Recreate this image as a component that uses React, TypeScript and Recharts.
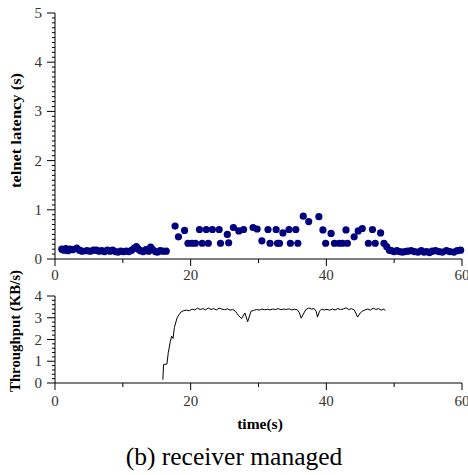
import React from 'react'
import { Label, Line, LineChart, Scatter, ScatterChart, XAxis, YAxis } from 'recharts'

// telnet latency samples (time in s, latency in s)
const latencyTime = [
  1.0, 1.3, 1.6, 1.9, 2.2, 2.6, 3.2, 3.6, 4.0, 4.7, 5.2, 5.7, 6.1, 6.5, 6.9, 7.3, 7.7, 8.1, 8.5, 8.9,
  9.3, 9.7, 10.1, 10.5, 10.9, 11.3, 11.7, 12.0, 12.3, 12.6, 13.0, 13.4, 13.8, 14.1, 14.4, 14.8, 15.1, 15.5, 15.9, 16.4,
  17.7, 18.2, 19.1, 19.6, 20.2, 20.7, 21.3, 21.7, 22.3, 22.6, 23.2, 24.2, 24.4, 25.4, 25.6, 26.3, 27.1, 27.8,
  29.2, 29.8, 30.5, 31.4, 31.7, 32.6, 32.8, 33.1, 33.6, 34.5, 34.7, 35.5, 35.8, 36.6, 37.4, 38.9, 39.5, 39.9,
  40.7, 41.2, 41.9, 42.4, 42.9, 43.1, 44.1, 44.7, 45.3, 46.2, 46.8, 47.2, 48.0, 48.5, 48.9,
  49.3, 49.6, 50.0, 50.4, 50.8, 51.2, 51.6, 52.0, 52.5, 53.0, 53.5, 54.0, 54.4, 54.8, 55.2, 55.6, 56.1, 56.6,
  57.1, 57.7, 58.2, 58.8, 59.3, 59.8,
]
const latencyValue = [
  0.2, 0.18, 0.21, 0.17, 0.2, 0.19, 0.22, 0.18, 0.16, 0.17, 0.16, 0.18, 0.18, 0.16, 0.17, 0.15, 0.18, 0.16, 0.18, 0.15,
  0.14, 0.16, 0.15, 0.16, 0.15, 0.18, 0.22, 0.25, 0.2, 0.17, 0.15, 0.19, 0.16, 0.24, 0.19, 0.15, 0.14, 0.17, 0.16, 0.16,
  0.67, 0.45, 0.58, 0.32, 0.32, 0.32, 0.6, 0.32, 0.6, 0.32, 0.6, 0.6, 0.32, 0.5, 0.33, 0.64, 0.57, 0.6,
  0.64, 0.61, 0.37, 0.6, 0.32, 0.6, 0.32, 0.32, 0.53, 0.6, 0.32, 0.6, 0.32, 0.87, 0.76, 0.86, 0.59, 0.32,
  0.52, 0.32, 0.32, 0.32, 0.59, 0.32, 0.45, 0.57, 0.62, 0.32, 0.6, 0.32, 0.53, 0.32, 0.25,
  0.18, 0.17, 0.15, 0.17, 0.15, 0.14, 0.15, 0.16, 0.17, 0.15, 0.14, 0.17, 0.14, 0.15, 0.13, 0.16, 0.17, 0.15,
  0.14, 0.17, 0.15, 0.14, 0.17, 0.18,
]

// throughput trace (time in s, KB/s)
const throughputTime = [
  15.9, 16.0, 16.5, 16.7, 17.0, 17.2, 17.4, 17.6, 18.0, 18.3, 18.6, 19.0, 19.4, 19.8, 20.2, 20.6, 21.0, 21.4, 21.8, 22.2,
  22.6, 23.0, 23.4, 23.8, 24.2, 24.6, 25.0, 25.4, 25.8, 26.2, 26.6, 27.0, 27.5, 28.0, 28.4, 28.9, 29.3, 29.7, 30.1, 30.5,
  30.9, 31.3, 31.7, 32.1, 32.5, 32.9, 33.3, 33.7, 34.1, 34.5, 34.9, 35.3, 35.7, 36.0, 36.3, 36.7, 37.0, 37.4, 37.8, 38.2,
  38.5, 38.7, 39.0, 39.3, 39.7, 40.1, 40.5, 40.9, 41.3, 41.7, 42.1, 42.5, 42.9, 43.3, 43.7, 44.1, 44.4, 44.6, 45.0, 45.3,
  45.7, 46.1, 46.5, 46.9, 47.3, 47.7, 48.1, 48.4, 48.7,
]
const throughputValue = [
  0.15, 0.85, 0.87, 1.4, 1.9, 2.15, 2.05, 2.55, 3.0, 3.15, 3.27, 3.33, 3.35, 3.32, 3.4, 3.36, 3.44, 3.38, 3.42, 3.36,
  3.45, 3.38, 3.42, 3.36, 3.44, 3.4, 3.37, 3.41, 3.35, 3.38, 3.3, 3.12, 2.96, 3.22, 2.82, 3.3, 3.34, 3.38, 3.35, 3.4,
  3.37, 3.39, 3.36, 3.4, 3.38, 3.42, 3.37, 3.4, 3.38, 3.41, 3.36, 3.39, 3.37, 3.25, 2.98, 3.22, 3.38, 3.45, 3.4, 3.42,
  3.3, 3.03, 3.3, 3.4, 3.36, 3.38, 3.35, 3.4, 3.36, 3.42, 3.38, 3.4, 3.46, 3.38, 3.42, 3.36, 3.18, 3.03, 3.22, 3.3,
  3.36, 3.4, 3.35, 3.44, 3.38, 3.42, 3.35, 3.4, 3.34,
]

const timeTicks = [0, 10, 20, 30, 40, 50, 60]
const timeLabels = [0, 20, 40, 60]
const latencyTicks = Array.from({ length: 51 }, (_, i) => i / 10)
const throughputTicks = Array.from({ length: 21 }, (_, i) => i / 5)

const latencyData = latencyTime.map((t, i) => ({ t, v: latencyValue[i] }))
const throughputData = throughputTime.map((t, i) => ({ t, v: throughputValue[i] }))

const FONT = '"Liberation Serif", "Times New Roman", serif'
const isWhole = (v: number) => Math.abs(v - Math.round(v)) < 1e-6

const YTick = ({ x, y, payload }: any) => {
  const major = isWhole(payload.value)
  const len = major ? 8 : 3
  return (
    <g>
      <line x1={x - len} x2={x} y1={y} y2={y} stroke="#000" strokeWidth={1} />
      {major && (
        <text x={x - 13} y={y + 5} textAnchor="end" fontSize={15} fontFamily={FONT} fill="#333">
          {Math.round(payload.value)}
        </text>
      )}
    </g>
  )
}

const makeXTick = (labelDy: number) => ({ x, y, payload }: any) => {
  const major = timeLabels.includes(payload.value)
  return (
    <g>
      <line x1={x} x2={x} y1={y} y2={y + (major ? 7 : 4)} stroke="#000" strokeWidth={1} />
      {major && (
        <text x={x} y={y + labelDy} textAnchor="middle" fontSize={15} fontFamily={FONT} fill="#333">
          {payload.value}
        </text>
      )}
    </g>
  )
}

// rotated axis title placed at an absolute centre inside the chart svg
const rotatedTitle = (text: string, cx: number, cy: number, length: number) => () => (
  <text
    x={cx}
    y={cy}
    transform={`rotate(-90, ${cx}, ${cy})`}
    textAnchor="middle"
    fontSize={15}
    fontWeight="bold"
    fontFamily={FONT}
    fill="#000"
    textLength={length}
    lengthAdjust="spacingAndGlyphs"
  >
    {text}
  </text>
)

export default function App() {
  return (
    <div style={{ position: 'absolute', left: 0, top: 0, width: 468, height: 475, background: '#fff', fontFamily: FONT }}>
      <div style={{ position: 'absolute', left: 0, top: 0 }}>
        <ScatterChart width={468} height={285} margin={{ top: 13, right: 6, bottom: 0, left: 0 }}>
          <XAxis
            type="number"
            dataKey="t"
            domain={[0, 60]}
            ticks={timeTicks}
            interval={0}
            height={26}
            tickSize={0}
            tickMargin={0}
            tickLine={false}
            tick={makeXTick(21)}
            axisLine={{ stroke: '#000' }}
          />
          <YAxis
            type="number"
            dataKey="v"
            domain={[0, 5]}
            ticks={latencyTicks}
            interval={0}
            width={55}
            tickSize={0}
            tickMargin={0}
            tickLine={false}
            tick={<YTick />}
            axisLine={{ stroke: '#000' }}
          >
            <Label content={rotatedTitle('telnet latency (s)', 21, 130.5, 115)} />
          </YAxis>
          <Scatter
            data={latencyData}
            isAnimationActive={false}
            shape={(p: any) => <circle cx={p.cx} cy={p.cy} r={3.6} fill="#000080" />}
          />
        </ScatterChart>
      </div>
      <div style={{ position: 'absolute', left: 0, top: 255 }}>
        <LineChart width={468} height={155} data={throughputData} margin={{ top: 41, right: 6, bottom: 0, left: 0 }}>
          <XAxis
            type="number"
            dataKey="t"
            domain={[0, 60]}
            ticks={timeTicks}
            interval={0}
            height={27}
            tickSize={0}
            tickMargin={0}
            tickLine={false}
            tick={makeXTick(23)}
            axisLine={{ stroke: '#000' }}
          />
          <YAxis
            type="number"
            domain={[0, 4]}
            ticks={throughputTicks}
            interval={0}
            width={55}
            tickSize={0}
            tickMargin={0}
            tickLine={false}
            tick={<YTick />}
            axisLine={{ stroke: '#000' }}
          >
            <Label content={rotatedTitle('Throughput (KB/s)', 20, 331 - 255, 122)} />
          </YAxis>
          <Line
            type="linear"
            dataKey="v"
            stroke="#000"
            strokeWidth={1}
            dot={false}
            isAnimationActive={false}
          />
        </LineChart>
      </div>
      <div
        style={{
          position: 'absolute',
          left: 0,
          top: 415,
          width: 468,
          textAlign: 'center',
          fontWeight: 'bold',
          fontSize: 15.5,
          lineHeight: '18px',
          paddingLeft: 52,
          boxSizing: 'border-box',
        }}
      >
        time(s)
      </div>
      <div
        style={{
          position: 'absolute',
          left: 0,
          top: 442,
          width: 468,
          textAlign: 'center',
          fontSize: 25.5,
          lineHeight: '30px',
        }}
      >
        (b) receiver managed
      </div>
    </div>
  )
}
